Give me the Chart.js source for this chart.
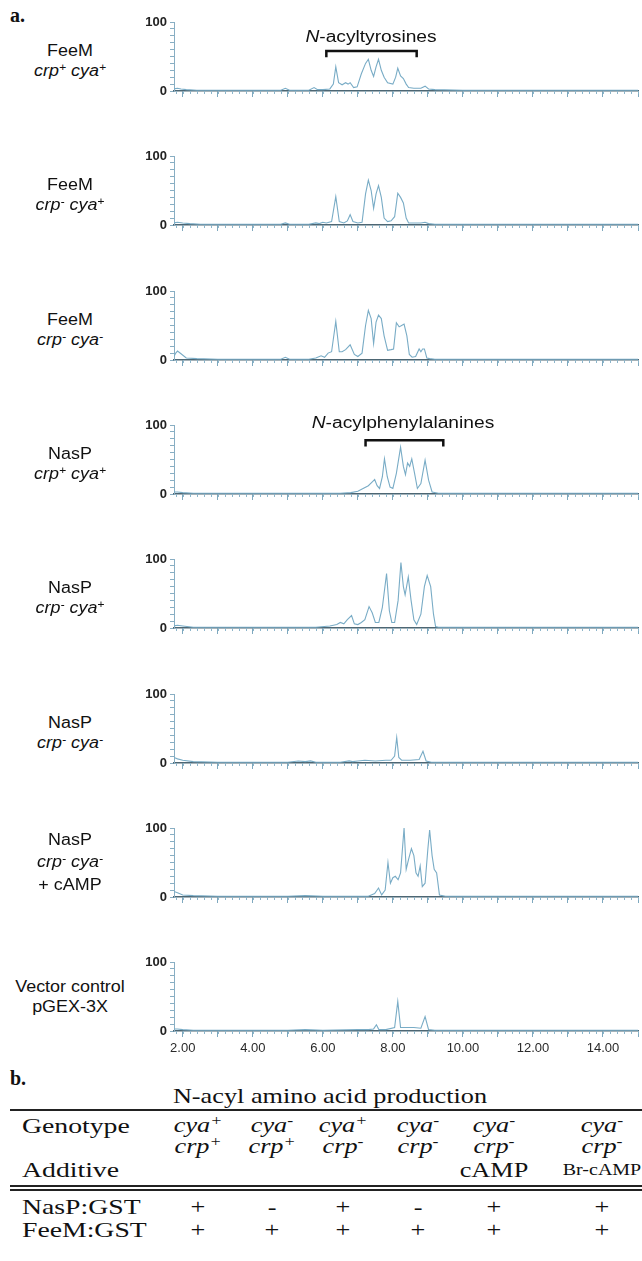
<!DOCTYPE html>
<html>
<head>
<meta charset="utf-8">
<script src="https://cdn.jsdelivr.net/npm/chart.js@4.4.1/dist/chart.umd.min.js"></script>
<style>
html, body { margin: 0; padding: 0; background: #fff; }
#fig { position: relative; width: 642px; height: 1261px; overflow: hidden; }
canvas { position: absolute; }
.lbl { position: absolute; white-space: nowrap; text-align: center; color: #111;
  font-family: "Liberation Sans", Arial, sans-serif; font-size: 16px; line-height: 20px;
  transform: translateX(-50%) scaleX(1.12); }
.tag { transform: translate(-50%, -50%) scaleX(1.2); font-size: 16px; }
sup { font-size: 0.68em; vertical-align: 0; position: relative; top: -0.5em; }
.tx { position: absolute; white-space: nowrap; color: #111; line-height: 24px;
  font-family: "Liberation Serif", "Times New Roman", serif; font-size: 21px; }
.c { transform: translate(-50%, -50%) scaleX(1.25); }
.l { transform-origin: left center; transform: translateY(-50%) scaleX(1.32); }
.rule { position: absolute; left: 10px; width: 632px; height: 1.5px; background: #222; }
</style>
</head>
<body>
<div id="fig"></div>
<script>
const RT_MIN = 1.75;
const RT_MAX = 15;

// retention time (min) / relative abundance (%) for each trace
const feemWtRt = [1.75, 1.85, 1.95, 2.1, 2.4, 3, 4, 4.8, 4.93, 5.05, 5.6, 5.75, 5.85, 6.0, 6.2, 6.3, 6.37, 6.45, 6.55, 6.65, 6.72, 6.78, 6.88, 6.98, 7.1, 7.22, 7.3, 7.38, 7.45, 7.52, 7.59, 7.67, 7.75, 7.85, 8.0, 8.08, 8.14, 8.22, 8.3, 8.38, 8.45, 8.6, 8.8, 8.92, 9.02, 9.2, 10, 12, 15];
const feemWtAb = [3, 4, 3, 2, 1, 1, 1, 1, 4, 1, 1, 5, 2, 2, 3, 10, 35, 12, 9, 12, 10, 12, 5, 6, 25, 40, 46, 30, 21, 35, 46, 30, 20, 12, 10, 20, 33, 22, 18, 10, 5, 4, 4, 7, 3, 2, 1, 1, 1];

const feemCrpRt = [1.75, 1.85, 2.0, 2.2, 2.5, 3, 4, 4.8, 4.93, 5.05, 5.6, 5.8, 5.9, 6.0, 6.1, 6.25, 6.37, 6.47, 6.6, 6.7, 6.78, 6.86, 7.0, 7.12, 7.22, 7.3, 7.38, 7.45, 7.52, 7.59, 7.67, 7.75, 7.85, 7.95, 8.05, 8.14, 8.22, 8.3, 8.38, 8.45, 8.6, 8.8, 8.92, 9.02, 9.2, 10, 12, 15];
const feemCrpAb = [3, 4, 3, 2, 1, 1, 1, 1, 3, 1, 1, 3, 2, 4, 3, 5, 41, 5, 3, 6, 15, 5, 3, 4, 45, 65, 50, 24, 45, 57, 40, 10, 5, 6, 12, 46, 40, 32, 10, 3, 3, 3, 4, 2, 1, 1, 1, 1];

const feemCrpCyaRt = [1.75, 1.8, 1.85, 1.95, 2.1, 2.4, 3, 4, 4.8, 4.93, 5.05, 5.6, 5.8, 5.95, 6.05, 6.15, 6.25, 6.37, 6.47, 6.55, 6.65, 6.78, 6.9, 7.0, 7.12, 7.22, 7.3, 7.38, 7.45, 7.52, 7.59, 7.67, 7.75, 7.85, 7.95, 8.02, 8.1, 8.18, 8.25, 8.32, 8.4, 8.47, 8.55, 8.65, 8.75, 8.8, 8.85, 8.9, 8.97, 9.05, 9.2, 10, 12, 15];
const feemCrpCyaAb = [5, 10, 13, 9, 3, 2, 1, 1, 1, 4, 1, 1, 3, 6, 4, 10, 12, 56, 12, 12, 15, 22, 8, 5, 10, 50, 72, 60, 24, 55, 65, 60, 35, 14, 15, 16, 54, 48, 50, 52, 35, 8, 4, 5, 16, 12, 16, 16, 3, 2, 1, 1, 1, 1];

const naspWtRt = [1.75, 1.85, 2.0, 2.3, 3, 4, 5, 6, 6.5, 6.8, 7.0, 7.15, 7.3, 7.42, 7.48, 7.55, 7.62, 7.7, 7.76, 7.84, 7.92, 8.0, 8.1, 8.22, 8.3, 8.36, 8.42, 8.48, 8.54, 8.62, 8.7, 8.8, 8.92, 9.02, 9.12, 9.3, 10, 12, 15];
const naspWtAb = [3, 3, 2, 1, 1, 1, 1, 1, 1, 2, 4, 8, 12, 18, 21, 12, 8, 25, 51, 25, 10, 8, 30, 68, 40, 28, 45, 40, 51, 30, 8, 15, 49, 20, 3, 1, 1, 1, 1];

const naspCrpRt = [1.75, 1.85, 2.0, 2.3, 3, 4, 5, 5.8, 6.2, 6.4, 6.5, 6.6, 6.7, 6.82, 6.9, 7.0, 7.1, 7.2, 7.32, 7.41, 7.5, 7.6, 7.7, 7.82, 7.9, 7.97, 8.05, 8.15, 8.23, 8.3, 8.35, 8.44, 8.52, 8.6, 8.68, 8.8, 8.9, 8.98, 9.08, 9.16, 9.22, 9.3, 10, 12, 15];
const naspCrpAb = [3, 4, 3, 1, 1, 1, 1, 1, 3, 5, 8, 6, 12, 18, 6, 5, 8, 12, 31, 22, 8, 8, 30, 79, 25, 8, 8, 40, 95, 60, 48, 74, 40, 12, 5, 20, 60, 76, 60, 20, 2, 1, 1, 1, 1];

const naspCrpCyaRt = [1.75, 1.85, 2.0, 2.3, 3, 4, 5, 5.3, 5.5, 5.65, 5.8, 6.5, 6.75, 6.85, 7.0, 7.2, 7.5, 7.8, 7.95, 8.05, 8.11, 8.17, 8.25, 8.5, 8.75, 8.86, 8.95, 9.1, 10, 12, 15];
const naspCrpCyaAb = [8, 6, 4, 2, 1, 1, 1, 3, 2, 3, 1, 1, 3, 2, 3, 4, 3, 4, 4, 10, 37, 8, 4, 4, 5, 17, 3, 1, 1, 1, 1];

const naspCampRt = [1.75, 1.85, 2.0, 2.3, 3, 4, 5, 5.5, 6, 6.5, 7.0, 7.3, 7.48, 7.59, 7.68, 7.78, 7.86, 7.93, 8.0, 8.07, 8.15, 8.22, 8.32, 8.38, 8.45, 8.53, 8.6, 8.66, 8.72, 8.78, 8.84, 8.92, 9.0, 9.05, 9.12, 9.18, 9.25, 9.33, 9.5, 10, 12, 15];
const naspCampAb = [8, 6, 3, 2, 1, 1, 1, 2, 1, 1, 1, 1, 5, 13, 3, 10, 50, 20, 28, 30, 25, 35, 100, 40, 55, 70, 60, 35, 30, 45, 15, 20, 70, 97, 60, 40, 35, 3, 1, 1, 1, 1];

const vectorRt = [1.75, 1.85, 2.0, 2.3, 3, 4, 5, 5.5, 6, 7.0, 7.3, 7.45, 7.53, 7.6, 7.8, 8.05, 8.14, 8.22, 8.4, 8.6, 8.8, 8.92, 9.02, 9.2, 10, 12, 15];
const vectorAb = [3, 3, 2, 1, 1, 1, 1, 2, 1, 2, 2, 3, 9, 2, 2, 5, 43, 5, 5, 5, 4, 21, 2, 1, 1, 1, 1];

const panelNames = [
  ['FeeM', '<i>crp<sup>+</sup> cya<sup>+</sup></i>'],
  ['FeeM', '<i>crp<sup>-</sup> cya<sup>+</sup></i>'],
  ['FeeM', '<i>crp<sup>-</sup> cya<sup>-</sup></i>'],
  ['NasP', '<i>crp<sup>+</sup> cya<sup>+</sup></i>'],
  ['NasP', '<i>crp<sup>-</sup> cya<sup>+</sup></i>'],
  ['NasP', '<i>crp<sup>-</sup> cya<sup>-</sup></i>'],
  ['NasP', '<i>crp<sup>-</sup> cya<sup>-</sup></i>', '+ cAMP'],
  ['Vector control', 'pGEX-3X']
];

// bracketed retention-time windows: [panel, from, to, level, label, label rt, label level]
const brackets = [
  [0, 6.1, 8.68, 58, '<i>N</i>-acyltyrosines', 7.38, 78],
  [3, 7.22, 9.44, 78, '<i>N</i>-acylphenylalanines', 8.28, 103]
];

// table (b)
const cyaAllele = ['+', '-', '+', '-', '-', '-'];
const crpAllele = ['+', '+', '-', '-', '-', '-'];
const additive = ['', '', '', '', 'cAMP', 'Br-cAMP'];
const naspGst = ['+', '-', '+', '-', '+', '+'];
const feemGst = ['+', '+', '+', '+', '+', '+'];

const traces = [
  [feemWtRt, feemWtAb], [feemCrpRt, feemCrpAb], [feemCrpCyaRt, feemCrpCyaAb],
  [naspWtRt, naspWtAb], [naspCrpRt, naspCrpAb], [naspCrpCyaRt, naspCrpCyaAb],
  [naspCampRt, naspCampAb], [vectorRt, vectorAb]
];

const fig = document.getElementById('fig');
const PAD_TOP = 40, PLOT_H = 69, AXIS_H = 26, Y_AXIS_W = 44, LEFT = 130;

const bracketPlugin = {
  id: 'bracket',
  afterDraw(chart, args, opts) {
    const b = opts.range;
    if (!b) return;
    const { ctx, scales: { x, y } } = chart;
    const x1 = x.getPixelForValue(b[1]), x2 = x.getPixelForValue(b[2]);
    const yTop = y.getPixelForValue(b[3]), yEnd = y.getPixelForValue(b[3] - 9);
    ctx.save();
    ctx.strokeStyle = '#111';
    ctx.lineWidth = 2.5;
    ctx.beginPath();
    ctx.moveTo(x1, yEnd);
    ctx.lineTo(x1, yTop);
    ctx.lineTo(x2, yTop);
    ctx.lineTo(x2, yEnd);
    ctx.stroke();
    ctx.restore();
  }
};

// small ticks every 0.2 min under the baseline
const minorTicks = {
  id: 'minorTicks',
  afterDraw(chart) {
    const { ctx, chartArea, scales: { x } } = chart;
    ctx.save();
    ctx.strokeStyle = '#8db5ca';
    ctx.lineWidth = 1;
    for (let i = 0; 1.8 + i * 0.2 <= RT_MAX + 1e-9; i++) {
      const px = Math.round(x.getPixelForValue(1.8 + i * 0.2)) + 0.5;
      ctx.beginPath();
      ctx.moveTo(px, chartArea.bottom);
      ctx.lineTo(px, chartArea.bottom + 3);
      ctx.stroke();
    }
    ctx.restore();
  }
};

traces.forEach(([rt, ab], i) => {
  const top100 = Math.round(22 + 134.3 * i);
  const last = i === traces.length - 1;
  const cv = document.createElement('canvas');
  cv.width = 642 - LEFT;
  cv.height = PAD_TOP + PLOT_H + AXIS_H;
  cv.style.left = LEFT + 'px';
  cv.style.top = (top100 - PAD_TOP) + 'px';
  fig.appendChild(cv);

  const br = brackets.find(b => b[0] === i);
  const chart = new Chart(cv, {
    type: 'line',
    data: {
      datasets: [{
        data: rt.map((t, k) => ({ x: t, y: ab[k] })),
        borderColor: '#79acc6',
        borderWidth: 1.1,
        pointRadius: 0,
        tension: 0,
        fill: false
      }]
    },
    options: {
      responsive: false,
      animation: false,
      events: [],
      layout: { padding: { top: PAD_TOP, left: 0, right: 0, bottom: 0 } },
      plugins: { legend: { display: false }, tooltip: { enabled: false }, bracket: { range: br } },
      scales: {
        x: {
          type: 'linear', min: RT_MIN, max: RT_MAX,
          afterFit: s => { s.height = AXIS_H; },
          border: { color: '#4d6673', width: 1.5 },
          grid: { drawOnChartArea: false, tickLength: 6, color: '#7fa9bf' },
          ticks: {
            stepSize: 1, includeBounds: false, autoSkip: false, maxRotation: 0, padding: 4,
            color: '#2a2a2a', font: { family: 'Liberation Sans', size: 13 },
            callback: v => (last && v % 2 === 0 && v < 15) ? v.toFixed(2) : ''
          }
        },
        y: {
          min: 0, max: 100,
          afterFit: s => { s.width = Y_AXIS_W; },
          border: { color: '#88aec3', width: 1 },
          grid: { drawOnChartArea: false, tickLength: 4, color: '#88aec3' },
          ticks: {
            stepSize: 10, autoSkip: false, padding: 3, color: '#222',
            font: { family: 'Liberation Sans', size: 13, weight: 'bold' },
            callback: v => (v === 0 || v === 100) ? String(v) : ''
          }
        }
      }
    },
    plugins: [bracketPlugin, minorTicks]
  });

  const names = panelNames[i];
  const lbl = document.createElement('div');
  lbl.className = 'lbl';
  lbl.style.left = '70px';
  lbl.style.top = (top100 + (names.length === 3 ? 1 : (last ? 15 : 19))) + 'px';
  if (names.length === 3) lbl.style.lineHeight = '22px';
  lbl.innerHTML = names.join('<br>');
  fig.appendChild(lbl);

  if (br) {
    const tag = document.createElement('div');
    tag.className = 'lbl tag';
    tag.innerHTML = br[4];
    tag.style.left = (LEFT + chart.scales.x.getPixelForValue(br[5])) + 'px';
    tag.style.top = (top100 - PAD_TOP + chart.scales.y.getPixelForValue(br[6])) + 'px';
    fig.appendChild(tag);
  }
});

function put(html, x, y, cls, extra) {
  const d = document.createElement('div');
  d.className = 'tx ' + cls;
  d.innerHTML = html;
  d.style.left = x + 'px';
  d.style.top = y + 'px';
  if (extra) Object.assign(d.style, extra);
  fig.appendChild(d);
}
function rule(y) {
  const r = document.createElement('div');
  r.className = 'rule';
  r.style.top = y + 'px';
  fig.appendChild(r);
}

put('a.', 10, 15, 'l', { fontWeight: 'bold', fontSize: '20px', transform: 'translateY(-50%)' });
put('b.', 10, 1078, 'l', { fontWeight: 'bold', fontSize: '20px', transform: 'translateY(-50%)' });
put('N-acyl amino acid production', 330, 1096, 'c');
rule(1109);
put('Genotype', 22, 1126, 'l');
put('Additive', 22, 1170, 'l');
rule(1185);
rule(1189);
put('NasP:GST', 22, 1207, 'l');
put('FeeM:GST', 22, 1230, 'l');

const colX = [198, 272, 343, 418, 494, 602];
colX.forEach((cx, k) => {
  put('<i>cya<sup>' + cyaAllele[k] + '</sup></i>', cx, 1126, 'c');
  put('<i>crp<sup>' + crpAllele[k] + '</sup></i>', cx, 1147, 'c');
  if (additive[k]) put(additive[k], cx, 1170, 'c', additive[k].length > 5 ? { fontSize: '16px' } : null);
  put(naspGst[k], cx, 1207, 'c');
  put(feemGst[k], cx, 1230, 'c');
});
</script>
</body>
</html>
